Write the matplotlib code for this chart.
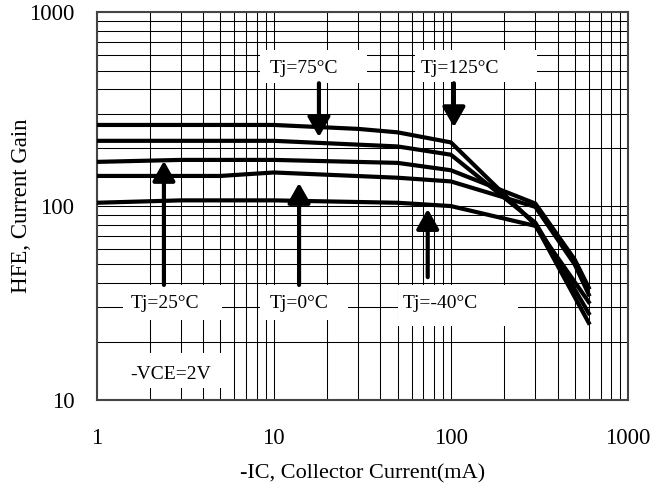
import matplotlib.pyplot as plt
from matplotlib.patches import Rectangle

plt.rcParams['font.family'] = ['Liberation Serif', 'DejaVu Serif']

# HFE curves (IC in mA, gain)
ic_a = [1, 10, 30, 50, 100, 300, 600]
hfe_a = [262, 262, 250, 240, 213, 80, 25]
ic_b = [1, 10, 50, 100, 300, 600]
hfe_b = [217, 217, 203, 184, 82, 28]
ic_c = [1, 3, 10, 50, 100, 300, 500, 600]
hfe_c = [169, 173, 173, 167, 153, 103, 53, 38]
ic_d = [1, 5, 10, 50, 100, 300, 500, 600]
hfe_d = [143, 143, 149, 140, 134, 99, 50, 35]
ic_e = [1, 3, 10, 50, 100, 300, 600]
hfe_e = [104, 107, 107, 104, 100, 79, 32]

labels = ['Tj=75°C', 'Tj=125°C', 'Tj=25°C', 'Tj=0°C', 'Tj=-40°C']
label_x = [14.8, 112, 2.43, 13.9, 86.8]
label_y = [514, 514, 31.6, 31.6, 31.6]
arrow_x = [18, 104, 2.4, 13.9, 74]
arrow_from = [430, 430, 39.2, 39.2, 43]
arrow_to = [227, 255, 171, 131.6, 96.6]
# white boxes behind labels, axes fraction (x0, x1, y0, y1)
boxes = [(0.307, 0.509, 0.817, 0.902), (0.599, 0.829, 0.820, 0.902),
         (0.0495, 0.236, 0.206, 0.296), (0.307, 0.473, 0.206, 0.296),
         (0.567, 0.793, 0.191, 0.296), (0.006, 0.247, 0.031, 0.121)]

fig = plt.figure(figsize=(6.66, 4.86), dpi=100)
ax = fig.add_axes([0.145, 0.177, 0.798, 0.798])

ax.set_xscale('log')
ax.set_yscale('log')
ax.set_xlim(1, 1000)
ax.set_ylim(10, 1000)
ax.set_axisbelow(True)
ax.grid(True, which='both', color='black', lw=0.75)

for x0, x1, y0, y1 in boxes:
    ax.add_patch(Rectangle((x0, y0), x1 - x0, y1 - y0, transform=ax.transAxes,
                           facecolor='white', edgecolor='none', zorder=1.5))

for xs, ys in [(ic_a, hfe_a), (ic_b, hfe_b), (ic_c, hfe_c), (ic_d, hfe_d), (ic_e, hfe_e)]:
    ax.plot(xs, ys, color='black', lw=3, zorder=3, solid_joinstyle='miter')

for i in range(len(labels)):
    ax.text(label_x[i], label_y[i], labels[i], ha='center', va='center', fontsize=14, zorder=5)
    ax.annotate('', xy=(arrow_x[i], arrow_to[i]), xytext=(arrow_x[i], arrow_from[i]),
                arrowprops=dict(arrowstyle='-|>,head_length=0.6,head_width=0.34',
                                mutation_scale=20, lw=3, color='black',
                                shrinkA=0, shrinkB=0), zorder=4)

ax.text(2.63, 13.5, '-VCE=2V', ha='center', va='center', fontsize=14, zorder=5)

ax.set_xticks([1, 10, 100, 1000])
ax.set_xticklabels(['1', '10', '100', '1000'])
ax.set_yticks([10, 100, 1000])
ax.set_yticklabels(['10', '100', '1000'])
ax.tick_params(which='both', length=0, labelsize=16.5)
ax.tick_params(axis='x', pad=20)
ax.tick_params(axis='y', pad=16)
for s in ax.spines.values():
    s.set_color('#444')
    s.set_linewidth(1.5)

ax.set_xlabel('-IC, Collector Current(mA)', fontsize=16)
ax.xaxis.set_label_coords(0.5, -0.191)
ax.xaxis.label.set_va('center')
ax.set_ylabel('HFE, Current Gain', fontsize=16.5)
ax.yaxis.set_label_coords(-0.1406, 0.5)
ax.yaxis.label.set_va('center')

fig.savefig('out.png', dpi=100)
